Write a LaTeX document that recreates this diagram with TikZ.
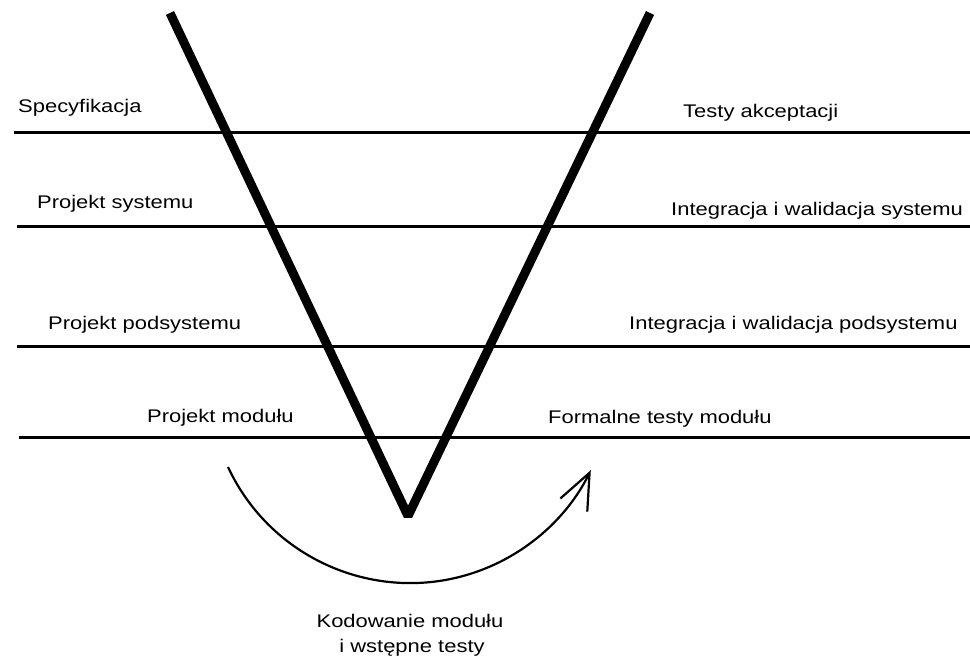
\documentclass[tikz,border=0pt]{standalone}
\usepackage{fontspec}
\setmainfont{Liberation Sans}[FakeStretch=1.2]
\usetikzlibrary{arrows.meta}
\begin{document}
\begin{tikzpicture}[x=1pt,y=-1pt,
  label/.style={inner sep=0pt,anchor=base west,font=\fontsize{18.3}{22}\selectfont},
  level/.style={line width=3pt},
  vee/.style={line width=9pt,line join=bevel},
  loop/.style={line width=2.2pt,-{Straight Barb[length=36pt,width=30pt,line width=2.2pt]}}]
\useasboundingbox (0,0) rectangle (970,667);

% phase levels
\coordinate (l1a) at (14,132);  \coordinate (l1b) at (970,132);
\coordinate (l2a) at (17,226);  \coordinate (l2b) at (970,226);
\coordinate (l3a) at (17,346);  \coordinate (l3b) at (970,346);
\coordinate (l4a) at (19,437);  \coordinate (l4b) at (970,437);
\draw[level] (l1a) -- (l1b);
\draw[level] (l2a) -- (l2b);
\draw[level] (l3a) -- (l3b);
\draw[level] (l4a) -- (l4b);

% the V
\coordinate (vl) at (170,13);
\coordinate (vb) at (408,516);
\coordinate (vr) at (650,13);
\draw[vee] (vl) -- (vb) -- (vr);

% design side
\node[label] (spec) at (18,112) {Specyfikacja};
\node[label] (psys) at (37,208) {Projekt systemu};
\node[label] (psub) at (48,329) {Projekt podsystemu};
\node[label] (pmod) at (147,422) {Projekt modułu};

% verification side
\node[label] (acc)  at (683,117) {Testy akceptacji};
\node[label] (isys) at (671,215) {Integracja i walidacja systemu};
\node[label] (isub) at (629,329) {Integracja i walidacja podsystemu};
\node[label] (fmod) at (548,423) {Formalne testy modułu};

% coding step
\coordinate (cs) at (228,467);
\draw[loop] (cs) arc[start angle=155,end angle=26,radius=201] coordinate (ce);
\node[label,anchor=base] (kod1) at (410,627) {Kodowanie modułu};
\node[label,anchor=base] (kod2) at (412,652) {i wstępne testy};
\end{tikzpicture}
\end{document}
